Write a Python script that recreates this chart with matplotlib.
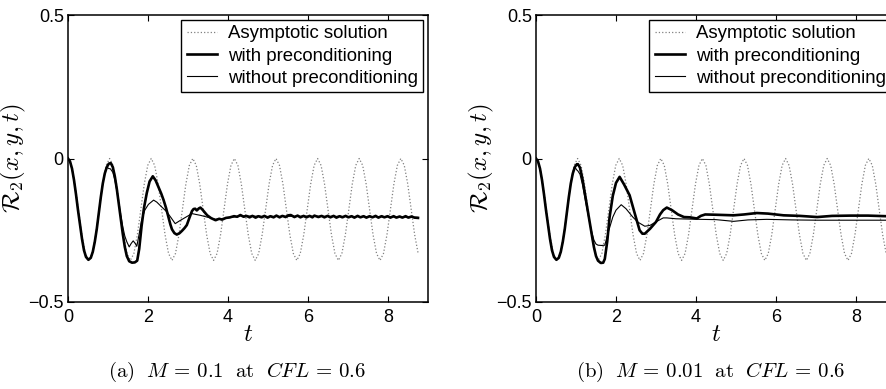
import numpy as np
import matplotlib
matplotlib.use("Agg")
import matplotlib.pyplot as plt

plt.rcParams['font.family'] = ['Liberation Sans', 'DejaVu Sans']
plt.rcParams['mathtext.fontset'] = 'cm'

# asymptotic solution, sampled every 1/12 of a period (period ~1.04)
asym_t = np.arange(102) * 0.08667
asym_y = [
    0, -0.024, -0.089, -0.178, -0.266, -0.331, -0.355, -0.331, -0.266, -0.178, -0.089, -0.024,
    0, -0.024, -0.089, -0.178, -0.266, -0.331, -0.355, -0.331, -0.266, -0.178, -0.089, -0.024,
    0, -0.024, -0.089, -0.178, -0.266, -0.331, -0.355, -0.331, -0.266, -0.178, -0.089, -0.024,
    0, -0.024, -0.089, -0.178, -0.266, -0.331, -0.355, -0.331, -0.266, -0.178, -0.089, -0.024,
    0, -0.024, -0.089, -0.178, -0.266, -0.331, -0.355, -0.331, -0.266, -0.178, -0.089, -0.024,
    0, -0.024, -0.089, -0.178, -0.266, -0.331, -0.355, -0.331, -0.266, -0.178, -0.089, -0.024,
    0, -0.024, -0.089, -0.178, -0.266, -0.331, -0.355, -0.331, -0.266, -0.178, -0.089, -0.024,
    0, -0.024, -0.089, -0.178, -0.266, -0.331, -0.355, -0.331, -0.266, -0.178, -0.089, -0.024,
    0, -0.024, -0.089, -0.178, -0.266, -0.331,
]

# shared start of the numerical curves (they follow the asymptotic one at first)
start_t = [0, 0.05, 0.1, 0.15, 0.2, 0.25, 0.3, 0.35, 0.4, 0.45, 0.51, 0.57, 0.62, 0.67,
           0.72, 0.77, 0.82, 0.87, 0.92, 0.97]
start_y = [0, -0.01, -0.035, -0.075, -0.125, -0.18, -0.23, -0.28, -0.32, -0.343, -0.353,
           -0.346, -0.325, -0.29, -0.245, -0.19, -0.135, -0.087, -0.052, -0.03]

# (a) M = 0.1, with preconditioning
a_with_t = start_t + [
    1.02, 1.07, 1.12, 1.17, 1.22, 1.27, 1.32, 1.37, 1.42, 1.47, 1.53, 1.6, 1.67, 1.73, 1.78,
    1.84, 1.9, 1.97, 2.04, 2.12, 2.19, 2.26, 2.33, 2.39, 2.45, 2.51, 2.56, 2.6, 2.66, 2.72,
    2.79, 2.85, 2.91, 2.97, 3.04, 3.1, 3.14, 3.18, 3.22, 3.27, 3.31, 3.36, 3.42, 3.48, 3.58,
    3.69, 3.78, 3.85, 3.95, 4.05, 4.15, 4.23, 4.31, 4.39, 4.46, 4.54, 4.61, 4.69, 4.76,
    4.84, 4.91, 4.99, 5.06, 5.14, 5.21, 5.29, 5.36, 5.44, 5.51, 5.57, 5.66, 5.74, 5.81,
    5.89, 5.96, 6.04, 6.11, 6.16, 6.26, 6.34, 6.41, 6.49, 6.56, 6.64, 6.71, 6.79, 6.86,
    6.94, 7.01, 7.09, 7.16, 7.24, 7.31, 7.39, 7.46, 7.54, 7.61, 7.69, 7.76, 7.84, 7.91,
    7.99, 8.06, 8.14, 8.21, 8.29, 8.36, 8.44, 8.51, 8.59, 8.66, 8.75]
a_with_y = start_y + [
    -0.018, -0.016, -0.03, -0.062, -0.106, -0.158, -0.212, -0.263, -0.308, -0.34, -0.358,
    -0.363, -0.362, -0.356, -0.315, -0.235, -0.172, -0.12, -0.08, -0.062, -0.076, -0.099,
    -0.122, -0.145, -0.172, -0.204, -0.23, -0.247, -0.26, -0.265, -0.26, -0.252, -0.243,
    -0.232, -0.205, -0.183, -0.176, -0.175, -0.181, -0.174, -0.171, -0.178, -0.188, -0.198,
    -0.208, -0.215, -0.21, -0.213, -0.207, -0.205, -0.201, -0.203, -0.197, -0.203, -0.2,
    -0.205, -0.2, -0.206, -0.201, -0.205, -0.2, -0.206, -0.201, -0.205, -0.199, -0.205,
    -0.2, -0.204, -0.198, -0.197, -0.204, -0.199, -0.205, -0.2, -0.205, -0.2, -0.205,
    -0.199, -0.204, -0.2, -0.205, -0.2, -0.205, -0.2, -0.206, -0.201, -0.205, -0.2,
    -0.205, -0.201, -0.206, -0.2, -0.205, -0.201, -0.206, -0.201, -0.205, -0.2, -0.206,
    -0.201, -0.205, -0.201, -0.206, -0.201, -0.206, -0.202, -0.206, -0.201, -0.206,
    -0.202, -0.206, -0.207]

# (a) M = 0.1, without preconditioning
a_without_t = start_t + [
    1.02, 1.06, 1.12, 1.17, 1.22, 1.27, 1.32, 1.37, 1.42, 1.47, 1.53, 1.58, 1.63, 1.68,
    1.72, 1.77, 1.84, 1.92, 2.01, 2.14, 2.22, 2.3, 2.39, 2.47, 2.58, 2.68, 2.78, 2.89,
    3.0, 3.1, 3.2, 3.31, 3.5, 3.69, 4.0, 4.31, 5.0, 6.0, 7.0, 8.0, 8.75]
a_without_y = start_y + [
    -0.035, -0.036, -0.048, -0.074, -0.112, -0.155, -0.198, -0.238, -0.27, -0.29, -0.308,
    -0.296, -0.287, -0.296, -0.306, -0.27, -0.215, -0.18, -0.16, -0.145, -0.152, -0.163,
    -0.175, -0.186, -0.207, -0.227, -0.218, -0.209, -0.2, -0.192, -0.195, -0.198, -0.205,
    -0.212, -0.207, -0.2, -0.202, -0.201, -0.202, -0.203, -0.205]

# (b) M = 0.01, with preconditioning
b_with_t = start_t + [
    1.02, 1.05, 1.1, 1.16, 1.22, 1.28, 1.34, 1.4, 1.45, 1.5, 1.55, 1.62, 1.68, 1.72, 1.78,
    1.84, 1.92, 2.0, 2.09, 2.2, 2.34, 2.47, 2.59, 2.66, 2.72, 2.85, 3.0, 3.1, 3.18, 3.27,
    3.4, 3.55, 3.7, 3.85, 4.02, 4.12, 4.23, 4.5, 4.94, 5.2, 5.52, 5.8, 6.19, 6.6, 7.03,
    7.4, 7.86, 8.3, 8.75]
b_with_y = start_y + [
    -0.02, -0.02, -0.032, -0.07, -0.12, -0.17, -0.22, -0.27, -0.31, -0.34, -0.356, -0.364,
    -0.363, -0.35, -0.29, -0.204, -0.13, -0.085, -0.064, -0.09, -0.128, -0.192, -0.25,
    -0.262, -0.262, -0.245, -0.221, -0.195, -0.18, -0.171, -0.18, -0.195, -0.204, -0.205,
    -0.209, -0.2, -0.195, -0.196, -0.198, -0.195, -0.19, -0.192, -0.198, -0.2, -0.204,
    -0.2, -0.199, -0.199, -0.201]

# (b) M = 0.01, without preconditioning
b_without_t = start_t + [
    1.02, 1.045, 1.1, 1.16, 1.22, 1.28, 1.34, 1.4, 1.45, 1.5, 1.55, 1.64, 1.72, 1.8, 1.92,
    2.0, 2.13, 2.25, 2.42, 2.55, 2.72, 2.85, 3.01, 3.18, 3.27, 3.5, 4.1, 4.5, 4.94, 5.3,
    5.77, 6.4, 7.03, 7.8, 8.75]
b_without_y = start_y + [
    -0.04, -0.043, -0.055, -0.09, -0.135, -0.18, -0.222, -0.26, -0.285, -0.298, -0.302,
    -0.303, -0.302, -0.26, -0.204, -0.18, -0.161, -0.175, -0.204, -0.222, -0.236, -0.233,
    -0.22, -0.207, -0.207, -0.21, -0.212, -0.213, -0.219, -0.214, -0.212, -0.214, -0.215,
    -0.215, -0.215]

panels = [
    (a_with_t, a_with_y, a_without_t, a_without_y,
     r'$\mathrm{(a)}\ \ M \,=\, 0.1\ \ \mathrm{at}\ \ CFL \,=\, 0.6$'),
    (b_with_t, b_with_y, b_without_t, b_without_y,
     r'$\mathrm{(b)}\ \ M \,=\, 0.01\ \ \mathrm{at}\ \ CFL \,=\, 0.6$'),
]
ax_left = [68 / 886, 536 / 886]
caption_x = [237 / 886, 711 / 886]

fig = plt.figure(figsize=(8.86, 3.89), dpi=100)

for i, (wt, wy, nt, ny, cap) in enumerate(panels):
    ax = fig.add_axes([ax_left[i], 1 - 302 / 389, 360 / 886, 287 / 389])
    ax.plot(asym_t, asym_y, ':', color='0.5', lw=0.9, label='Asymptotic solution')
    ax.plot(wt, wy, '-', color='black', lw=1.9, label='with preconditioning')
    ax.plot(nt, ny, '-', color='black', lw=0.8, label='without preconditioning')
    ax.set_xlim(0, 9)
    ax.set_ylim(-0.5, 0.5)
    ax.set_xticks([0, 2, 4, 6, 8])
    ax.set_yticks([-0.5, 0, 0.5])
    ax.set_yticklabels(['\u22120.5', '0', '0.5'])
    ax.tick_params(direction='in', top=True, right=True, length=4, width=0.8,
                   labelsize=13, pad=3)
    ax.tick_params(axis='x', pad=5)
    for s in ax.spines.values():
        s.set_linewidth(1.1)
    ax.set_xlabel(r'$t$', fontsize=18, labelpad=-3)
    ax.set_ylabel(r'$\mathcal{R}_2(x,y,t)$', fontsize=18)
    ax.yaxis.set_label_coords(-0.112, 0.5)
    leg = ax.legend(loc='upper right', fontsize=13.4, frameon=True, fancybox=False,
                    edgecolor='black', framealpha=1, borderpad=0.3, labelspacing=0.28,
                    handlelength=1.6, handletextpad=0.6, borderaxespad=0.25)
    leg.get_frame().set_linewidth(1.0)
    fig.text(caption_x[i], 1 - 372 / 389, cap, fontsize=15, ha='center', va='center')

fig.savefig('out.png', dpi=100)
